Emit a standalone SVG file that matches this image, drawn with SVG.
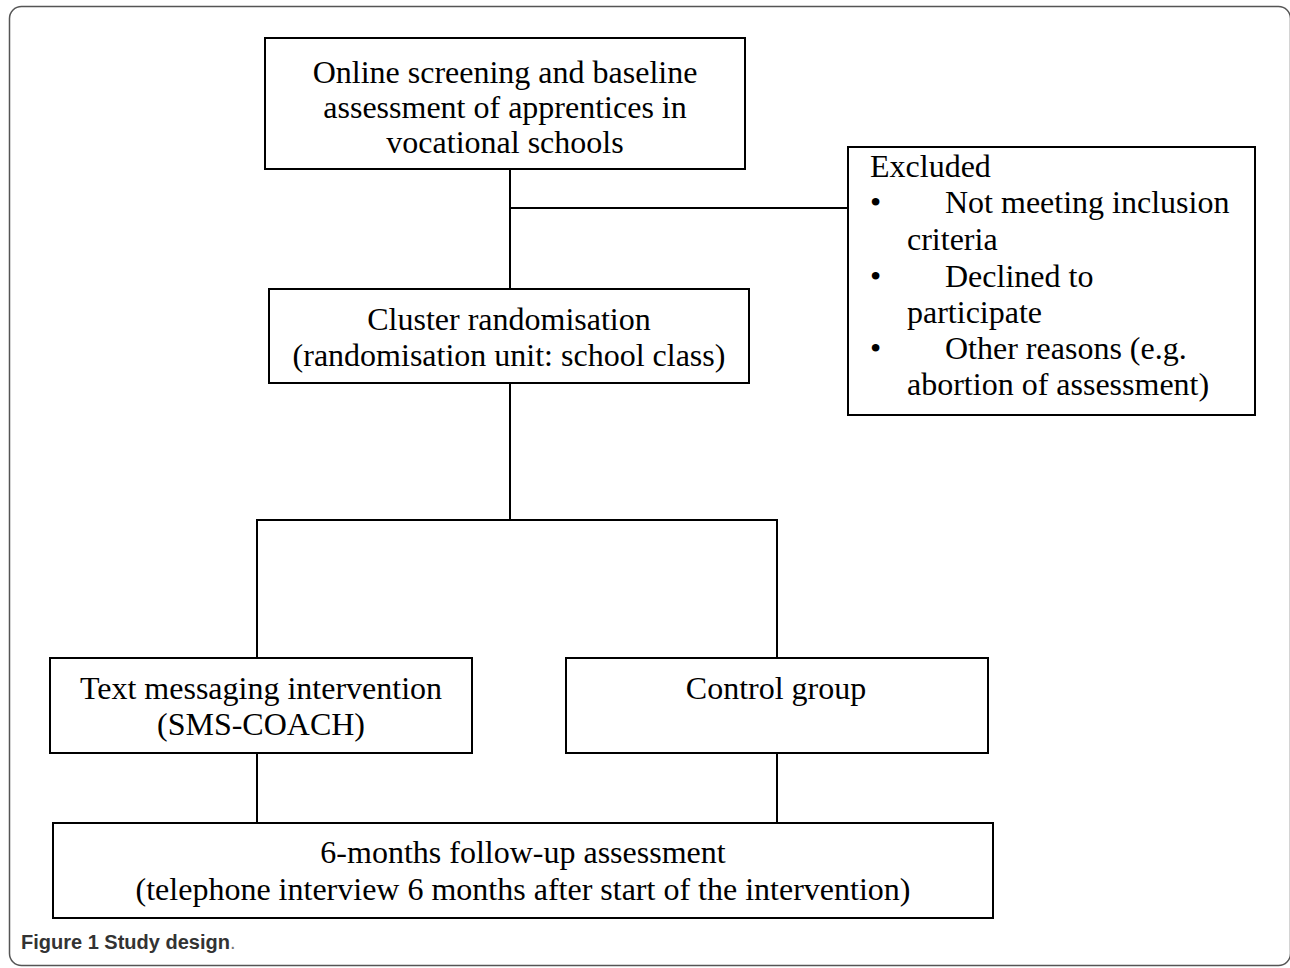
<svg xmlns="http://www.w3.org/2000/svg" width="1290" height="968" viewBox="0 0 1290 968">
<style>
.box{fill:#fff;stroke:#000;stroke-width:2}
.t{font-family:"Liberation Serif","Times New Roman",serif;font-size:32px;fill:#000}
.c{text-anchor:middle}
.ln{stroke:#000;stroke-width:2;fill:none}
.cap{font-family:"Liberation Sans",Arial,sans-serif;font-size:20px;font-weight:bold;fill:#333}
</style>
<rect x="9.5" y="6.5" width="1281" height="959" rx="12" fill="#fff" stroke="#555" stroke-width="1.5"/>
<g id="connectors">
<path class="ln" d="M510 169V289"/>
<path class="ln" d="M510 208H848"/>
<path class="ln" d="M510 383V520"/>
<path class="ln" d="M257 658V520H777V658"/>
<path class="ln" d="M257 753V823"/>
<path class="ln" d="M777 753V823"/>
</g>
<g id="screening">
<rect class="box" x="265" y="38" width="480" height="131"/>
<text class="t c" x="505" y="83">Online screening and baseline</text>
<text class="t c" x="505" y="118">assessment of apprentices in</text>
<text class="t c" x="505" y="153">vocational schools</text>
</g>
<g id="excluded">
<rect class="box" x="848" y="147" width="407" height="268"/>
<text class="t" x="870" y="177">Excluded</text>
<text class="t" x="870" y="213">•</text>
<text class="t" x="945" y="213">Not meeting inclusion</text>
<text class="t" x="907" y="250">criteria</text>
<text class="t" x="870" y="287">•</text>
<text class="t" x="945" y="287">Declined to</text>
<text class="t" x="907" y="323">participate</text>
<text class="t" x="870" y="359">•</text>
<text class="t" x="945" y="359">Other reasons (e.g.</text>
<text class="t" x="907" y="395">abortion of assessment)</text>
</g>
<g id="randomisation">
<rect class="box" x="269" y="289" width="480" height="94"/>
<text class="t c" x="509" y="330">Cluster randomisation</text>
<text class="t c" x="509" y="366">(randomisation unit: school class)</text>
</g>
<g id="intervention">
<rect class="box" x="50" y="658" width="422" height="95"/>
<text class="t c" x="261" y="699">Text messaging intervention</text>
<text class="t c" x="261" y="735">(SMS-COACH)</text>
</g>
<g id="control">
<rect class="box" x="566" y="658" width="422" height="95"/>
<text class="t c" x="776" y="699">Control group</text>
</g>
<g id="followup">
<rect class="box" x="53" y="823" width="940" height="95"/>
<text class="t c" x="523" y="863">6-months follow-up assessment</text>
<text class="t c" x="523" y="900">(telephone interview 6 months after start of the intervention)</text>
</g>
<text class="cap" x="21" y="949">Figure 1 Study design<tspan font-weight="normal" fill="#777">.</tspan></text>
</svg>
